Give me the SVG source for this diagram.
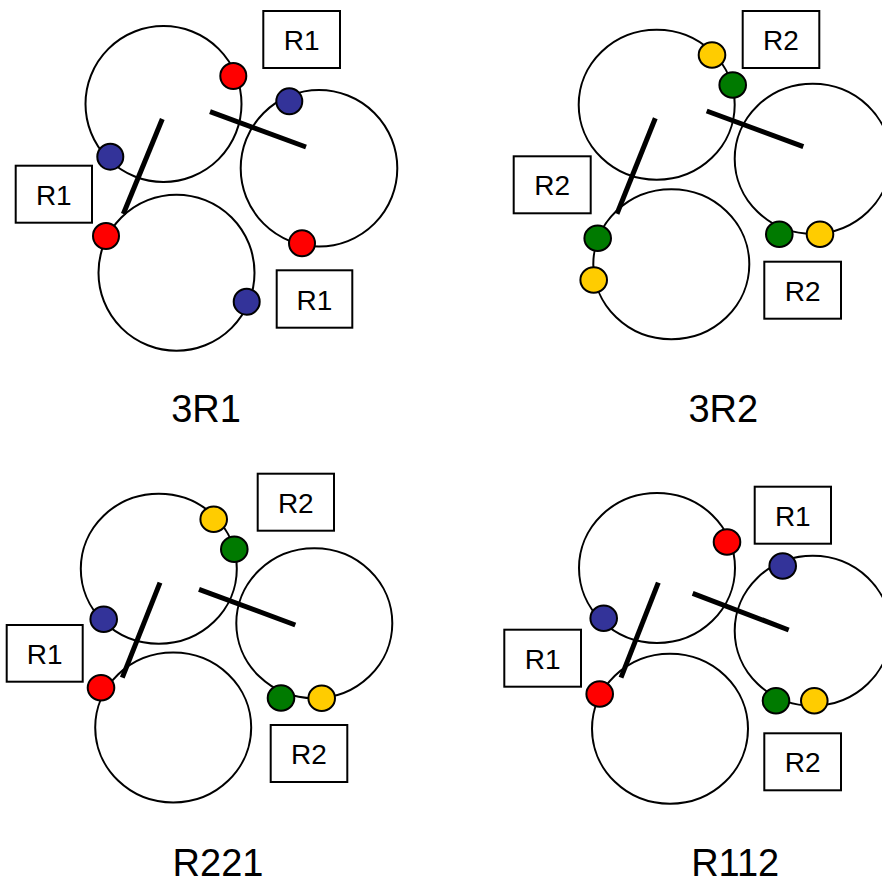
<svg xmlns="http://www.w3.org/2000/svg" width="882" height="881" viewBox="0 0 882 881">
<style>
.ring{fill:none;stroke:#000;stroke-width:2}
.bar{stroke:#000;stroke-width:5;stroke-linecap:butt}
.dot{stroke:#000;stroke-width:2}
.r{fill:#FF0000}.b{fill:#333399}.g{fill:#007A00}.y{fill:#FFCC00}
.box{fill:#fff;stroke:#000;stroke-width:2}
.lbl{font-family:"Liberation Sans",Arial,sans-serif;font-size:28px;text-anchor:middle;fill:#000}
.ttl{font-family:"Liberation Sans",Arial,sans-serif;font-size:38px;text-anchor:middle;fill:#000}
</style>
<rect width="882" height="881" fill="#fff"/>

<!-- Panel 1: 3R1 -->
<g id="p1">
  <g id="p1-rings">
    <circle id="p1-ringA" class="ring" cx="163.5" cy="104" r="78"/>
    <circle id="p1-ringB" class="ring" cx="319" cy="168.3" r="78.3"/>
    <circle id="p1-ringC" class="ring" cx="176.5" cy="272.7" r="78"/>
  </g>
  <g id="p1-connectors">
    <line class="bar" x1="162.3" y1="119" x2="123.3" y2="214"/>
    <line class="bar" x1="210" y1="111.7" x2="306" y2="147"/>
  </g>
  <g id="p1-dots">
    <circle class="dot r" cx="233.3" cy="76" r="13"/>
    <circle class="dot b" cx="289.3" cy="101.3" r="13"/>
    <circle class="dot b" cx="110.3" cy="156.7" r="13"/>
    <circle class="dot r" cx="106" cy="236" r="13"/>
    <circle class="dot r" cx="302" cy="243.3" r="13"/>
    <circle class="dot b" cx="246.7" cy="301.7" r="13"/>
  </g>
  <g id="p1-box1"><rect class="box" x="263.3" y="11" width="76.7" height="57"/><text class="lbl" x="301.7" y="50">R1</text></g>
  <g id="p1-box2"><rect class="box" x="15.7" y="165.7" width="76.3" height="57"/><text class="lbl" x="53.8" y="204.7">R1</text></g>
  <g id="p1-box3"><rect class="box" x="276.7" y="270.3" width="75.6" height="57.4"/><text class="lbl" x="314.5" y="309.5">R1</text></g>
  <text id="p1-title" class="ttl" x="206" y="421.7">3R1</text>
</g>

<!-- Panel 2: 3R2 -->
<g id="p2">
  <g id="p2-rings">
    <ellipse id="p2-ringA" class="ring" cx="656.7" cy="104.7" rx="78" ry="75"/>
    <ellipse id="p2-ringB" class="ring" cx="812.7" cy="158.7" rx="78" ry="75"/>
    <ellipse id="p2-ringC" class="ring" cx="671.3" cy="264.2" rx="78" ry="75"/>
  </g>
  <g id="p2-connectors">
    <line class="bar" x1="655.3" y1="118.3" x2="617" y2="213.7"/>
    <line class="bar" x1="706.7" y1="111" x2="803.3" y2="146.7"/>
  </g>
  <g id="p2-dots">
    <ellipse class="dot y" cx="712" cy="55" rx="13.3" ry="12.7"/>
    <ellipse class="dot g" cx="732.7" cy="85" rx="13.3" ry="12.7"/>
    <ellipse class="dot g" cx="597.7" cy="238.3" rx="13.3" ry="12.7"/>
    <ellipse class="dot y" cx="593.7" cy="280" rx="13.3" ry="12.7"/>
    <ellipse class="dot g" cx="779.3" cy="234.3" rx="13.3" ry="12.7"/>
    <ellipse class="dot y" cx="820" cy="234.3" rx="13.3" ry="12.7"/>
  </g>
  <g id="p2-box1"><rect class="box" x="742.7" y="11" width="76.6" height="57"/><text class="lbl" x="781" y="50">R2</text></g>
  <g id="p2-box2"><rect class="box" x="513.7" y="156.3" width="77" height="57"/><text class="lbl" x="552.2" y="195.3">R2</text></g>
  <g id="p2-box3"><rect class="box" x="764.3" y="261.7" width="76.7" height="57"/><text class="lbl" x="802.7" y="300.7">R2</text></g>
  <text id="p2-title" class="ttl" x="723.3" y="421.7">3R2</text>
</g>

<!-- Panel 3: R221 -->
<g id="p3">
  <g id="p3-rings">
    <ellipse id="p3-ringA" class="ring" cx="158.8" cy="568.7" rx="78" ry="75"/>
    <ellipse id="p3-ringB" class="ring" cx="314.3" cy="623.3" rx="78" ry="75"/>
    <ellipse id="p3-ringC" class="ring" cx="173.2" cy="727.5" rx="78" ry="75"/>
  </g>
  <g id="p3-connectors">
    <line class="bar" x1="160" y1="582.7" x2="122.3" y2="677.7"/>
    <line class="bar" x1="199" y1="589.3" x2="295.3" y2="625"/>
  </g>
  <g id="p3-dots">
    <ellipse class="dot y" cx="213.7" cy="519.3" rx="13.3" ry="12.7"/>
    <ellipse class="dot g" cx="234.3" cy="549.3" rx="13.3" ry="12.7"/>
    <ellipse class="dot b" cx="103.7" cy="619.3" rx="13.3" ry="12.7"/>
    <ellipse class="dot r" cx="101" cy="687.7" rx="13.3" ry="12.7"/>
    <ellipse class="dot g" cx="281" cy="698" rx="13.3" ry="12.7"/>
    <ellipse class="dot y" cx="321.7" cy="698.3" rx="13.3" ry="12.7"/>
  </g>
  <g id="p3-box1"><rect class="box" x="257.7" y="473.7" width="76.3" height="57"/><text class="lbl" x="295.8" y="512.7">R2</text></g>
  <g id="p3-box2"><rect class="box" x="6.7" y="625" width="76" height="56.7"/><text class="lbl" x="44.7" y="663.8">R1</text></g>
  <g id="p3-box3"><rect class="box" x="270.7" y="725" width="76.6" height="57"/><text class="lbl" x="309" y="764">R2</text></g>
  <text id="p3-title" class="ttl" x="218" y="876">R221</text>
</g>

<!-- Panel 4: R112 -->
<g id="p4">
  <g id="p4-rings">
    <ellipse id="p4-ringA" class="ring" cx="657" cy="568" rx="78" ry="75"/>
    <ellipse id="p4-ringB" class="ring" cx="812.7" cy="630.7" rx="78" ry="75"/>
    <ellipse id="p4-ringC" class="ring" cx="670" cy="728.8" rx="78" ry="75"/>
  </g>
  <g id="p4-connectors">
    <line class="bar" x1="658.3" y1="582.7" x2="621" y2="677.7"/>
    <line class="bar" x1="692.7" y1="593.3" x2="788.7" y2="630"/>
  </g>
  <g id="p4-dots">
    <ellipse class="dot r" cx="727" cy="542" rx="13.3" ry="12.7"/>
    <ellipse class="dot b" cx="782.7" cy="566" rx="13.3" ry="12.7"/>
    <ellipse class="dot b" cx="603.7" cy="618.3" rx="13.3" ry="12.7"/>
    <ellipse class="dot r" cx="599.7" cy="694" rx="13.3" ry="12.7"/>
    <ellipse class="dot g" cx="776" cy="700.7" rx="13.3" ry="12.7"/>
    <ellipse class="dot y" cx="814.3" cy="700.7" rx="13.3" ry="12.7"/>
  </g>
  <g id="p4-box1"><rect class="box" x="754.7" y="486.7" width="76.3" height="57"/><text class="lbl" x="792.8" y="525.7">R1</text></g>
  <g id="p4-box2"><rect class="box" x="504.3" y="629.7" width="76.7" height="57"/><text class="lbl" x="542.7" y="668.7">R1</text></g>
  <g id="p4-box3"><rect class="box" x="764.3" y="733.3" width="76.7" height="57"/><text class="lbl" x="802.7" y="772.3">R2</text></g>
  <text id="p4-title" class="ttl" x="735.2" y="876">R112</text>
</g>
</svg>
